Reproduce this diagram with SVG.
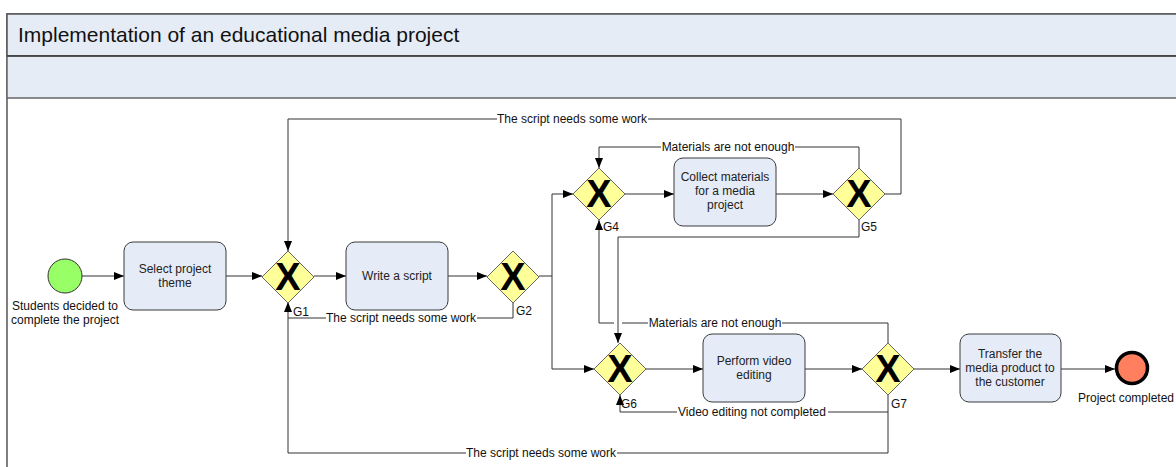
<svg xmlns="http://www.w3.org/2000/svg" width="1176" height="467" viewBox="0 0 1176 467">
  <defs>
    <marker id="arrow" viewBox="0 0 10 10" refX="10" refY="5" markerWidth="10" markerHeight="10" markerUnits="userSpaceOnUse" orient="auto">
      <path d="M0,1 L10,5 L0,9 Z" fill="#000"/>
    </marker>
    <style>
      text { font-family: "Liberation Sans", Arial, sans-serif; }
      .task rect { fill: #e6ecf7; stroke: #3a3a3a; stroke-width: 1; }
      .task text { font-size: 12px; fill: #222; text-anchor: middle; }
      .gw polygon { fill: #ffff99; stroke: #666; stroke-width: 1; }
      .gw .x { font-size: 38px; font-weight: bold; fill: #000; text-anchor: middle; }
      .gw .id { font-size: 12px; fill: #111; }
      .flow { fill: none; stroke: #333; stroke-width: 1; }
      .arr { marker-end: url(#arrow); }
      .lbl { font-size: 12px; fill: #111; text-anchor: middle; }
      .lblbg { fill: #fff; }
      .evlbl { font-size: 12px; fill: #111; text-anchor: middle; }
    </style>
  </defs>

  <!-- pool frame and header -->
  <g id="pool">
    <rect x="7" y="14" width="1180" height="460" fill="#fff" stroke="#555" stroke-width="1.5"/>
    <rect x="7" y="14" width="1180" height="42" fill="#e6ecf6" stroke="#555" stroke-width="1.5"/>
    <rect x="7" y="56" width="1180" height="42" fill="#e6ecf6" stroke="#666" stroke-width="1.5"/>
    <line x1="7" y1="56" x2="1176" y2="56" stroke="#222" stroke-width="1"/>
    <text x="18" y="42" font-size="21" fill="#111">Implementation of an educational media project</text>
  </g>

  <!-- sequence flows -->
  <g id="connectors">
    <path class="flow arr" d="M82,276 H124"/>
    <path class="flow arr" d="M226,276 H262"/>
    <path class="flow arr" d="M314,276 H346"/>
    <path class="flow arr" d="M448,276 H487"/>
    <!-- G2 split -->
    <path class="flow arr" d="M539,276 H552 V194 H573"/>
    <path class="flow arr" d="M552,276 V369 H594"/>
    <path class="flow arr" d="M625,194 H674"/>
    <path class="flow arr" d="M776,194 H833"/>
    <path class="flow arr" d="M646,369 H703"/>
    <path class="flow arr" d="M805,369 H862"/>
    <path class="flow arr" d="M914,369 H960"/>
    <path class="flow arr" d="M1061,369 H1115"/>
    <!-- G5 loop back to G4 -->
    <path class="flow arr" d="M859,168 V147 H599 V168"/>
    <!-- G5 loop back to G1 -->
    <path class="flow arr" d="M885,194 H901 V119 H288 V251"/>
    <!-- G5 on to G6 -->
    <path class="flow arr" d="M859,220 V237 H618 V343"/>
    <!-- G7 back to G4 (jumps over the G5-G6 line) -->
    <path class="flow" d="M888,343 V323 H622"/>
    <path class="flow arr" d="M614,323 H599 V220"/>
    <!-- G2 back to G1 -->
    <path class="flow arr" d="M513,302 V318 H288 V302"/>
    <!-- G7 back to G6 -->
    <path class="flow arr" d="M888,395 V412 H620 V395"/>
    <!-- G7 back to G1 -->
    <path class="flow" d="M888,412 V453 H288 V318"/>

    <!-- flow labels -->
    <rect class="lblbg" x="497" y="113" width="151" height="12"/>
    <text class="lbl" x="572" y="123">The script needs some work</text>
    <rect class="lblbg" x="661" y="141" width="134" height="12"/>
    <text class="lbl" x="728" y="151">Materials are not enough</text>
    <rect class="lblbg" x="326" y="312" width="151" height="12"/>
    <text class="lbl" x="401" y="322">The script needs some work</text>
    <rect class="lblbg" x="648" y="317" width="134" height="12"/>
    <text class="lbl" x="715" y="327">Materials are not enough</text>
    <rect class="lblbg" x="677" y="406" width="151" height="12"/>
    <text class="lbl" x="752" y="416">Video editing not completed</text>
    <rect class="lblbg" x="466" y="447" width="151" height="12"/>
    <text class="lbl" x="541" y="457">The script needs some work</text>
  </g>

  <g id="start">
    <circle cx="65" cy="276" r="17" fill="#99ff66" stroke="#333" stroke-width="1"/>
    <text class="evlbl" x="65" y="310">Students decided to</text>
    <text class="evlbl" x="65" y="324">complete the project</text>
  </g>

  <g id="task-theme" class="task">
    <rect x="124" y="242" width="102" height="68" rx="9"/>
    <text x="175" y="273">Select project</text>
    <text x="175" y="287">theme</text>
  </g>

  <g id="g1" class="gw">
    <polygon points="288,251 314,277 288,303 262,277"/>
    <text class="x" x="288" y="290">X</text>
    <text class="id" x="293" y="316">G1</text>
  </g>

  <g id="task-script" class="task">
    <rect x="346" y="242" width="102" height="68" rx="9"/>
    <text x="397" y="280">Write a script</text>
  </g>

  <g id="g2" class="gw">
    <polygon points="513,251 539,277 513,303 487,277"/>
    <text class="x" x="513" y="290">X</text>
    <text class="id" x="516" y="315">G2</text>
  </g>

  <g id="g4" class="gw">
    <polygon points="599,168 625,194 599,220 573,194"/>
    <text class="x" x="599" y="207">X</text>
    <text class="id" x="603" y="231">G4</text>
  </g>

  <g id="task-collect" class="task">
    <rect x="674" y="158" width="102" height="68" rx="9"/>
    <text x="725" y="181">Collect materials</text>
    <text x="725" y="195">for a media</text>
    <text x="725" y="209">project</text>
  </g>

  <g id="g5" class="gw">
    <polygon points="859,168 885,194 859,220 833,194"/>
    <text class="x" x="859" y="207">X</text>
    <text class="id" x="861" y="231">G5</text>
  </g>

  <g id="g6" class="gw">
    <polygon points="620,343 646,369 620,395 594,369"/>
    <text class="x" x="620" y="382">X</text>
    <text class="id" x="621" y="408">G6</text>
  </g>

  <g id="task-edit" class="task">
    <rect x="703" y="334" width="102" height="68" rx="9"/>
    <text x="754" y="365">Perform video</text>
    <text x="754" y="379">editing</text>
  </g>

  <g id="g7" class="gw">
    <polygon points="888,343 914,369 888,395 862,369"/>
    <text class="x" x="888" y="382">X</text>
    <text class="id" x="891" y="408">G7</text>
  </g>

  <g id="task-transfer" class="task">
    <rect x="960" y="334" width="101" height="68" rx="9"/>
    <text x="1010" y="358">Transfer the</text>
    <text x="1010" y="372">media product to</text>
    <text x="1010" y="386">the customer</text>
  </g>

  <g id="end">
    <circle cx="1132" cy="368" r="15.5" fill="#ff7f5f" stroke="#000" stroke-width="3.5"/>
    <text class="evlbl" x="1126" y="402">Project completed</text>
  </g>
</svg>
